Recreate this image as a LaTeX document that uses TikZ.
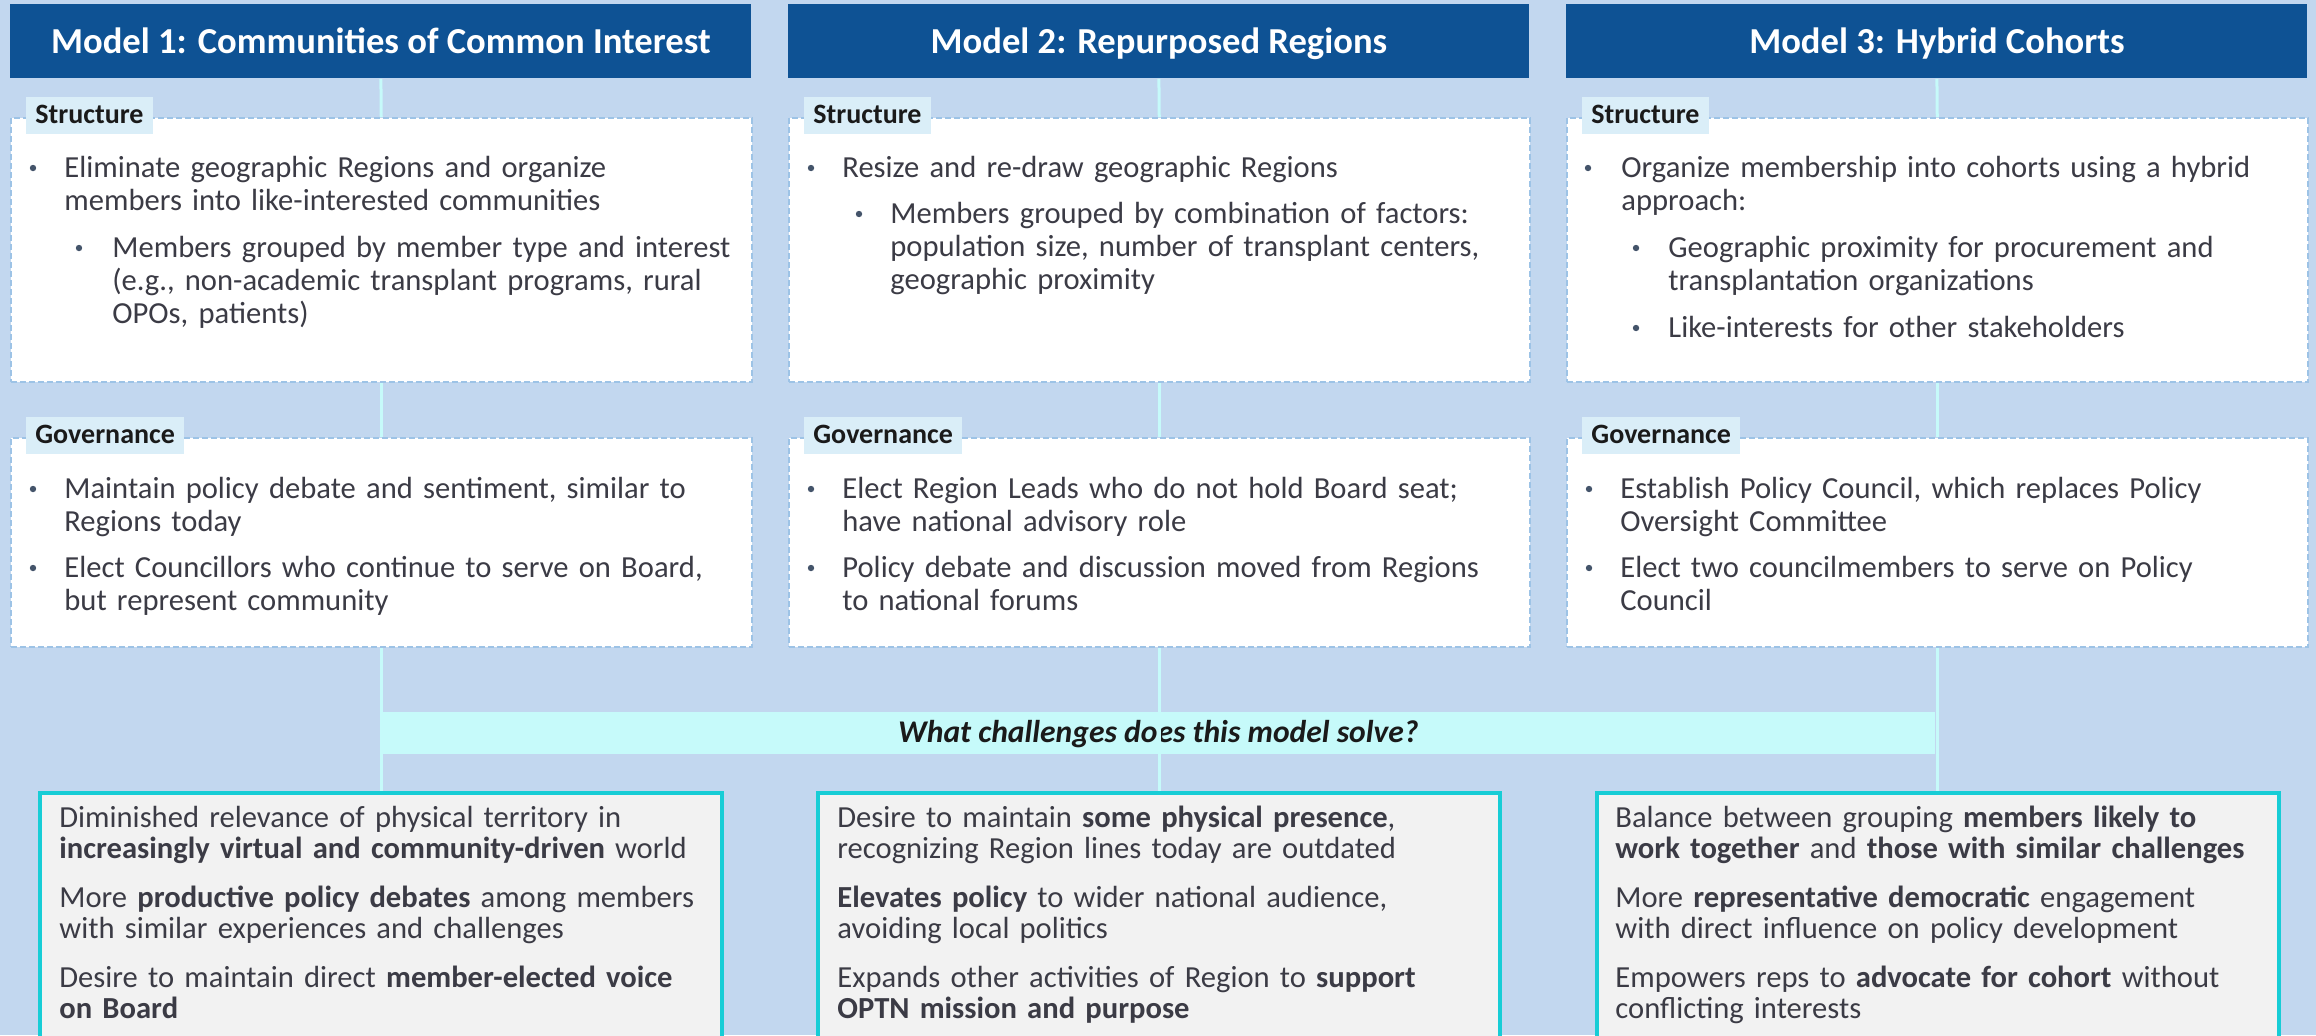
\documentclass[tikz,border=0pt]{standalone}
\usepackage{fontspec}
\setmainfont{Carlito}
\definecolor{bgblue}{HTML}{C2D7EF}
\definecolor{hdrblue}{HTML}{0E5294}
\definecolor{lblfill}{HTML}{DAEEF8}
\definecolor{dashcol}{HTML}{9DC3E6}
\definecolor{conncol}{HTML}{C6FAFA}
\definecolor{tealcol}{HTML}{17CDD6}
\definecolor{boxfill}{HTML}{F2F2F2}
\definecolor{txtcol}{HTML}{3B3B45}
\definecolor{bulcol}{HTML}{44546A}
\definecolor{darktxt}{HTML}{1A1A1A}
\tikzset{
  hdrbox/.style={fill=hdrblue, anchor=north west, minimum width=370.5pt, minimum height=37pt, inner sep=0,
    text=white, font=\fontsize{18.3}{22}\selectfont\bfseries, text height=13pt, text depth=1pt},
  cbox/.style={fill=white, draw=dashcol, line width=0.75pt, dash pattern=on 3pt off 1.5pt, anchor=north west,
    minimum width=370.5pt, inner sep=0},
  bbox/.style={fill=boxfill, draw=tealcol, line width=2pt, anchor=north west, minimum width=341pt,
    minimum height=140pt, inner sep=0},
  lblbox/.style={fill=lblfill, anchor=north west, inner xsep=4.5pt, inner ysep=0pt, minimum height=18.5pt,
    text=darktxt, font=\fontsize{14}{16}\selectfont\bfseries, text height=9.5pt, text depth=1.5pt},
  barbox/.style={fill=conncol, anchor=north west, minimum width=777pt, minimum height=21pt, inner sep=0,
    text=darktxt, font=\fontsize{15.8}{18}\selectfont\bfseries\itshape, text height=10.5pt, text depth=1.5pt},
  conn/.style={draw=conncol, line width=1.5pt},
  body/.style={anchor=base west, inner sep=0, text width=360pt, align=left, text=txtcol,
    font=\fontsize{15.3}{16.5}\selectfont},
  bodyb/.style={anchor=base west, inner sep=0, text width=360pt, align=left, text=txtcol,
    font=\fontsize{15.3}{15.5}\selectfont},
}
\newcommand{\mybullet}[2]{\fill[bulcol] (#1,#2) circle (1.6pt);}
\begin{document}
\begin{tikzpicture}[x=0.5pt,y=-0.5pt]
\useasboundingbox (0,0) rectangle (2316,1035);
\clip (0,0) rectangle (2316,1035);
\fill[bgblue] (0,0) rectangle (2316,1035);

% headers
\node[hdrbox] (h1) at (10,4) {Model 1: Communities of Common Interest};
\node[hdrbox] (h2) at (788,4) {Model 2: Repurposed Regions};
\node[hdrbox] (h3) at (1566,4) {Model 3: Hybrid Cohorts};

% structure boxes
\node[cbox, minimum height=132pt] (sb1) at (10,117) {};
\node[cbox, minimum height=132pt] (sb2) at (788,117) {};
\node[cbox, minimum height=132pt] (sb3) at (1566,117) {};

% governance boxes
\node[cbox, minimum height=104.5pt] (gb1) at (10,437) {};
\node[cbox, minimum height=104.5pt] (gb2) at (788,437) {};
\node[cbox, minimum height=104.5pt] (gb3) at (1566,437) {};

% challenge bar
\node[barbox] (bar) at (381,712) {What challenges does this model solve?};

% bottom boxes
\node[bbox] (bb1) at (38,791) {};
\node[bbox] (bb2) at (816,791) {};
\node[bbox] (bb3) at (1595,791) {};

% connectors
\foreach \i in {1,2,3}{
  \draw[conn] (h\i.south) -- (sb\i.north);
  \draw[conn] (sb\i.south) -- (gb\i.north);
  \draw[conn] (gb\i.south) -- (gb\i.south |- bb\i.north);
}

% labels
\node[lblbox] (ls1) at (26,97) {Structure};
\node[lblbox] (ls2) at (804,97) {Structure};
\node[lblbox] (ls3) at (1582,97) {Structure};
\node[lblbox] (lg1) at (26,417) {Governance};
\node[lblbox] (lg2) at (804,417) {Governance};
\node[lblbox] (lg3) at (1582,417) {Governance};

% structure text
\mybullet{33}{168}
\node[body] (s1a) at (64,177) {Eliminate geographic Regions and organize\\members into like-interested communities};
\mybullet{79}{248}
\node[body] (s1b) at (112,257) {Members grouped by member type and interest\\(e.g., non-academic transplant programs, rural\\OPOs, patients)};

\mybullet{811}{168}
\node[body] (s2a) at (842,177) {Resize and re-draw geographic Regions};
\mybullet{859}{214}
\node[body] (s2b) at (890,223) {Members grouped by combination of factors:\\population size, number of transplant centers,\\geographic proximity};

\mybullet{1588}{168}
\node[body] (s3a) at (1621,177) {Organize membership into cohorts using a hybrid\\approach:};
\mybullet{1636}{248}
\node[body] (s3b) at (1668,257) {Geographic proximity for procurement and\\transplantation organizations};
\mybullet{1636}{328}
\node[body] (s3c) at (1668,337) {Like-interests for other stakeholders};

% governance text
\mybullet{33}{489}
\node[body] (g1a) at (64,498) {Maintain policy debate and sentiment, similar to\\Regions today};
\mybullet{33}{568}
\node[body] (g1b) at (64,577) {Elect Councillors who continue to serve on Board,\\but represent community};

\mybullet{811}{489}
\node[body] (g2a) at (842,498) {Elect Region Leads who do not hold Board seat;\\have national advisory role};
\mybullet{811}{568}
\node[body] (g2b) at (842,577) {Policy debate and discussion moved from Regions\\to national forums};

\mybullet{1589}{489}
\node[body] (g3a) at (1620,498) {Establish Policy Council, which replaces Policy\\Oversight Committee};
\mybullet{1589}{568}
\node[body] (g3b) at (1620,577) {Elect two councilmembers to serve on Policy\\Council};

% bottom text
\node[bodyb] (c1a) at (59,827) {Diminished relevance of physical territory in\\\textbf{increasingly virtual and community-driven} world};
\node[bodyb] (c1b) at (59,907) {More \textbf{productive policy debates} among members\\with similar experiences and challenges};
\node[bodyb] (c1c) at (59,987) {Desire to maintain direct \textbf{member-elected voice}\\\textbf{on Board}};

\node[bodyb] (c2a) at (837,827) {Desire to maintain \textbf{some physical presence},\\recognizing Region lines today are outdated};
\node[bodyb] (c2b) at (837,907) {\textbf{Elevates policy} to wider national audience,\\avoiding local politics};
\node[bodyb] (c2c) at (837,987) {Expands other activities of Region to \textbf{support}\\\textbf{OPTN mission and purpose}};

\node[bodyb] (c3a) at (1615,827) {Balance between grouping \textbf{members likely to}\\\textbf{work together} and \textbf{those with similar challenges}};
\node[bodyb] (c3b) at (1615,907) {More \textbf{representative democratic} engagement\\with direct influence on policy development};
\node[bodyb] (c3c) at (1615,987) {Empowers reps to \textbf{advocate for cohort} without\\conflicting interests};
\end{tikzpicture}
\end{document}
